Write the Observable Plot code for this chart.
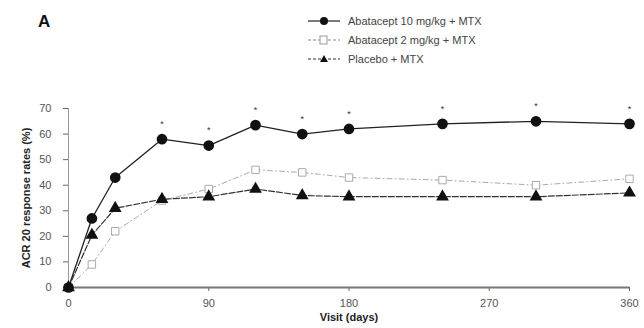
<!DOCTYPE html>
<html>
<head>
<meta charset="utf-8">
<script src="https://cdn.jsdelivr.net/npm/d3@7"></script>
<script src="https://cdn.jsdelivr.net/npm/@observablehq/plot@0.6"></script>
<style>
  body { margin: 0; background: #fff; }
  #wrap { position: relative; width: 644px; height: 328px; font-family: "Liberation Sans", Arial, sans-serif; }
  #panel { position: absolute; left: 38px; top: 12px; font-weight: bold; font-size: 17px; color: #111; }
  #legend { position: absolute; left: 306px; top: 11px; font-size: 11px; color: #444; }
  .row { display: flex; align-items: center; height: 19px; }
  .row svg { margin-right: 6px; }
  #chart { position: absolute; left: 0; top: 0; }
</style>
</head>
<body>
<div id="wrap">
  <div id="chart"></div>
  <div id="panel">A</div>
  <div id="legend"></div>
</div>
<script>
const days = [0, 15, 30, 60, 90, 120, 150, 180, 240, 300, 360];
const abatacept10 = [0, 27, 43, 58, 55.5, 63.5, 60, 62, 64, 65, 64];
const abatacept2 = [0, 9, 22, 34, 38.5, 46, 45, 43, 42, 40, 42.5];
const placebo = [0, 20.5, 31, 34.5, 35.5, 38.5, 36, 35.5, 35.5, 35.5, 37];
const starDays = [60, 90, 120, 150, 180, 240, 300, 360];
const seriesNames = ["Abatacept 10 mg/kg + MTX", "Abatacept 2 mg/kg + MTX", "Placebo + MTX"];
const xTicks = [0, 90, 180, 270, 360];
const yTicks = [0, 10, 20, 30, 40, 50, 60, 70];

const d10 = days.map((d, i) => ({day: d, v: abatacept10[i]}));
const d2 = days.map((d, i) => ({day: d, v: abatacept2[i]}));
const dp = days.map((d, i) => ({day: d, v: placebo[i]}));
const stars = starDays.map(d => ({day: d, v: abatacept10[days.indexOf(d)]}));

const chart = Plot.plot({
  width: 644,
  height: 328,
  marginTop: 108,
  marginBottom: 41,
  marginLeft: 68,
  marginRight: 15,
  style: {fontFamily: "Liberation Sans, Arial, sans-serif", fontSize: "11px", color: "#444", background: "transparent"},
  x: {domain: [0, 360]},
  y: {domain: [0, 70]},
  marks: [
    Plot.axisY({ticks: yTicks, tickSize: 5, tickPadding: 12, label: null, stroke: "#666", fill: "#555"}),
    Plot.axisY({ticks: [], label: "ACR 20 response rates (%)", labelAnchor: "center", labelArrow: "none", labelOffset: 46, fontWeight: "bold", fill: "#222"}),
    Plot.axisX({ticks: xTicks, tickSize: 4, tickPadding: 8, label: null, stroke: "#666", fill: "#555"}),
    Plot.axisX({ticks: [], label: "Visit (days)", labelAnchor: "center", labelArrow: "none", labelOffset: 33, fontWeight: "bold", fill: "#222"}),
    Plot.ruleX([0], {stroke: "#999", strokeWidth: 1}),
    Plot.ruleY([0], {stroke: "#777", strokeWidth: 2}),
    Plot.line(d2, {x: "day", y: "v", stroke: "#aaa", strokeWidth: 1, strokeDasharray: "5,3,1,3"}),
    Plot.line(dp, {x: "day", y: "v", stroke: "#333", strokeWidth: 1.2, strokeDasharray: "6,2"}),
    Plot.line(d10, {x: "day", y: "v", stroke: "#222", strokeWidth: 1.3}),
    Plot.dot(d2, {x: "day", y: "v", symbol: "square", r: 4.2, fill: "white", stroke: "#aaa", strokeWidth: 1}),
    Plot.dot(dp, {x: "day", y: "v", symbol: "triangle", r: 3.8, fill: "#111", stroke: "#111"}),
    Plot.dot(d10, {x: "day", y: "v", symbol: "circle", r: 4.6, fill: "#111", stroke: "#111"}),
    Plot.text(stars, {x: "day", y: "v", text: () => "*", dy: -15, fontSize: 9, fill: "#333"})
  ]
});
document.getElementById("chart").appendChild(chart);

// legend
const legendStyles = [
  {dash: "", stroke: "#222", sym: "circle"},
  {dash: "3,2", stroke: "#888", sym: "square"},
  {dash: "3,2", stroke: "#333", sym: "triangle"}
];
const legend = document.getElementById("legend");
seriesNames.forEach((name, i) => {
  const s = legendStyles[i];
  let sym = "";
  if (s.sym === "circle") sym = `<circle cx="18" cy="7" r="4" fill="#111"/>`;
  if (s.sym === "square") sym = `<rect x="14" y="3" width="7" height="8" fill="white" stroke="#999"/>`;
  if (s.sym === "triangle") sym = `<path d="M18,3 L22,10 L14,10 Z" fill="#111"/>`;
  const row = document.createElement("div");
  row.className = "row";
  row.innerHTML = `<svg width="36" height="14"><line x1="2" y1="7" x2="34" y2="7" stroke="${s.stroke}" stroke-width="1.2" ${s.dash ? `stroke-dasharray="${s.dash}"` : ""}/>${sym}</svg><span>${name}</span>`;
  legend.appendChild(row);
});
</script>
</body>
</html>
